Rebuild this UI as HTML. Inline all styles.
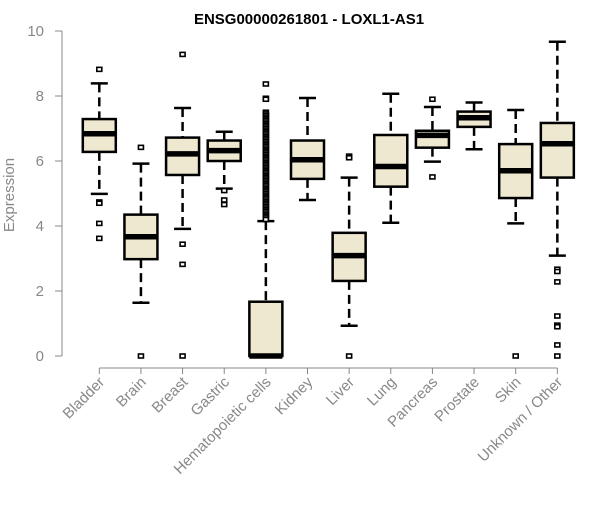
<!DOCTYPE html>
<html><head><meta charset="utf-8"><style>
body{margin:0;background:#fff;}
svg text{font-family:"Liberation Sans",sans-serif;}
</style></head><body>
<svg id="chart" width="600" height="500" xmlns="http://www.w3.org/2000/svg">
<text x="309" y="24" text-anchor="middle" font-size="15" font-weight="bold">ENSG00000261801 - LOXL1-AS1</text>
<text transform="translate(14,195) rotate(-90)" text-anchor="middle" font-size="15" fill="#888">Expression</text>
<g id="axes"></g><g id="marks"></g>
</svg>
<script>
const categories=["Bladder","Brain","Breast","Gastric","Hematopoietic cells","Kidney","Liver","Lung","Pancreas","Prostate","Skin","Unknown / Other"];
const lowerWhisker=[4.99,1.64,3.91,5.15,0,4.8,0.93,4.1,5.98,6.36,4.08,3.09];
const q1=[6.28,2.98,5.57,6.0,0,5.45,2.31,5.21,6.41,7.05,4.86,5.49];
const medians=[6.84,3.67,6.22,6.32,0,6.04,3.09,5.83,6.79,7.33,5.7,6.53];
const q3=[7.29,4.35,6.72,6.63,1.67,6.63,3.79,6.8,6.93,7.52,6.52,7.17];
const upperWhisker=[8.39,5.92,7.63,6.9,4.15,7.94,5.49,8.07,7.66,7.8,7.57,9.67];
const outliers=[[8.82,4.74,4.7,4.08,3.62],[6.42,0],[9.28,3.44,2.82,0],[5.09,4.8,4.66],
[8.37,7.93,7.9,7.5,7.45,7.4,7.35,7.3,7.25,7.2,7.15,7.1,7.05,7.0,6.95,6.9,6.85,6.8,6.75,6.7,6.65,6.6,6.55,6.5,6.45,6.4,6.35,6.3,6.25,6.2,6.15,6.1,6.05,6.0,5.95,5.9,5.85,5.8,5.75,5.7,5.65,5.6,5.55,5.5,5.45,5.4,5.35,5.3,5.25,5.2,5.15,5.1,5.05,5.0,4.95,4.9,4.85,4.8,4.75,4.7,4.65,4.6,4.55,4.5,4.45,4.4,4.35,4.3,4.25,4.2],
[],[6.15,6.1,0],[],[7.9,5.51],[],[0],[2.67,2.6,2.28,1.23,0.95,0.9,0.34,0]];
const yTicks=[0,2,4,6,8,10];
const NS="http://www.w3.org/2000/svg";
const xS=i=>99.3+41.64*i, yS=v=>356-32.5*v;
const axes=document.getElementById('axes'), marks=document.getElementById('marks');
function mk(tag,attrs,parent,txt){const e=document.createElementNS(NS,tag);for(const k in attrs)e.setAttribute(k,attrs[k]);if(txt!==undefined)e.textContent=txt;parent.appendChild(e);return e;}
let a=mk('line',{x1:62,x2:62,y1:yS(0),y2:yS(10),stroke:'#888','stroke-width':1},axes);


yTicks.forEach(t=>{
 let l=mk('line',{x1:55,x2:62,y1:yS(t),y2:yS(t),stroke:'#888'},axes);
 
 
 let tx=mk('text',{x:44,y:yS(t)+5,'text-anchor':'end','font-size':15,fill:'#888'},axes,String(t));
 
 
});
let xa=mk('line',{x1:xS(0),x2:xS(11),y1:368,y2:368,stroke:'#888'},axes);


categories.forEach((c,i)=>{
 const x=xS(i);
 let l=mk('line',{x1:x,x2:x,y1:368,y2:374,stroke:'#888'},axes);
 
 
 let tx=mk('text',{transform:`translate(${x+6},${383}) rotate(-45)`,'text-anchor':'end','font-size':15,fill:'#888'},axes,c);
 
 
 const g=mk('g',{},marks);
 
 
 const w=16.5;
 mk('line',{x1:x,x2:x,y1:yS(upperWhisker[i]),y2:yS(q3[i]),stroke:'#000','stroke-width':2.5,'stroke-dasharray':'9,5'},g);
 mk('line',{x1:x,x2:x,y1:yS(q1[i]),y2:yS(lowerWhisker[i]),stroke:'#000','stroke-width':2.5,'stroke-dasharray':'9,5'},g);
 mk('line',{x1:x-8.5,x2:x+8.5,y1:yS(upperWhisker[i]),y2:yS(upperWhisker[i]),stroke:'#000','stroke-width':2.5},g);
 mk('line',{x1:x-8.5,x2:x+8.5,y1:yS(lowerWhisker[i]),y2:yS(lowerWhisker[i]),stroke:'#000','stroke-width':2.5},g);
 mk('rect',{x:x-w,y:yS(q3[i]),width:2*w,height:Math.max(0.5,yS(q1[i])-yS(q3[i])),fill:'#ede8cf',stroke:'#000','stroke-width':2.5},g);
 mk('line',{x1:x-w,x2:x+w,y1:yS(medians[i]),y2:yS(medians[i]),stroke:'#000','stroke-width':5.5},g);
 outliers[i].forEach(v=>{
  let p=mk('rect',{x:x-2.5,y:yS(v)-2,width:5,height:4,fill:'#fff',stroke:'#000','stroke-width':1.6},g);
  
  
 });
});
</script>
</body></html>
